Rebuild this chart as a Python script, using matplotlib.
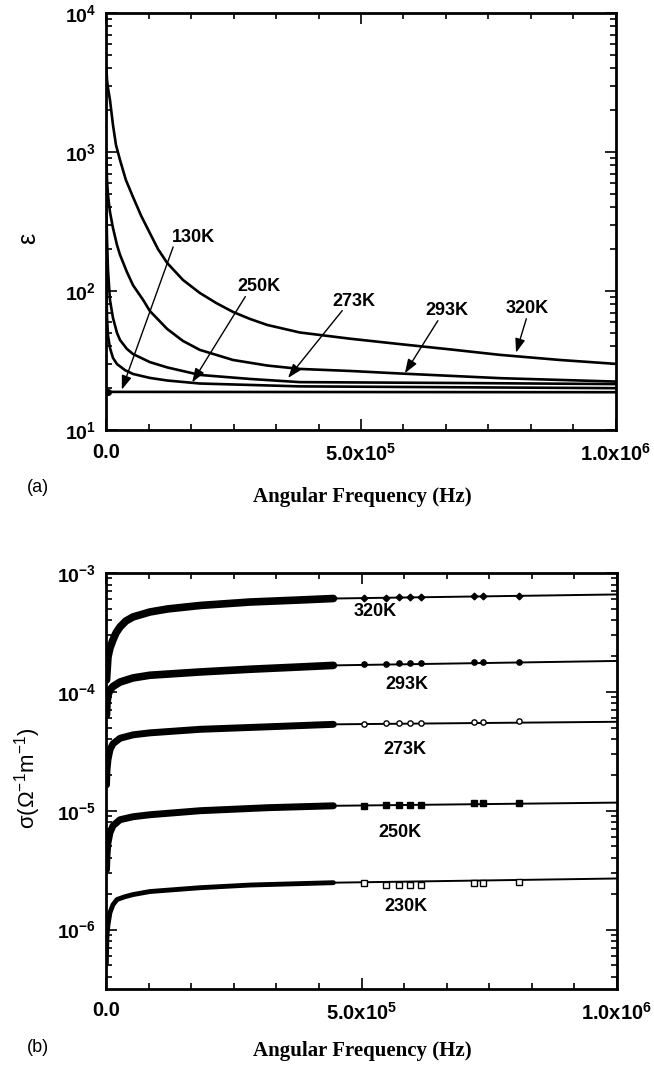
import matplotlib
matplotlib.use("Agg")
import matplotlib.pyplot as plt
import numpy as np
from matplotlib.ticker import MultipleLocator, LogLocator, NullFormatter

plt.rcParams['font.family'] = ['Liberation Sans', 'DejaVu Sans']
plt.rcParams['mathtext.fontset'] = 'custom'
plt.rcParams['mathtext.rm'] = 'Liberation Sans'
plt.rcParams['mathtext.bf'] = 'Liberation Sans:bold'
plt.rcParams['mathtext.it'] = 'Liberation Sans:italic'

# ---- panel (a): dielectric constant vs angular frequency ----
w_320 = [1e3, 2e3, 3.9e3, 7.8e3, 1.37e4, 1.96e4, 2.75e4, 3.9e4, 5.3e4, 6.9e4, 8.6e4, 1.02e5, 1.2e5,
         1.51e5, 1.84e5, 2.16e5, 2.49e5, 2.82e5, 3.16e5, 3.8e5, 4.78e5, 5.76e5, 6.75e5, 7.73e5, 8.9e5, 1e6]
e_320 = [3890, 3300, 2884, 2366, 1563, 1122, 875, 629, 474, 347, 261, 200, 159,
         120, 96.8, 82, 70.7, 63, 57, 50.3, 45.4, 41.5, 38.0, 34.7, 31.9, 29.9]

w_293 = [1e3, 2e3, 3.9e3, 7.8e3, 1.37e4, 2.16e4, 2.75e4, 4.1e4, 5.3e4, 7.3e4, 8.6e4, 1.2e5, 1.51e5,
         1.84e5, 2.49e5, 3.16e5, 3.8e5, 4.78e5, 5.76e5, 7.73e5, 1e6]
e_293 = [875, 629, 491, 370, 284, 214, 182, 137, 110, 86, 71.8, 53.3, 43.7,
         37.7, 31.9, 29.1, 27.5, 26.6, 25.5, 23.6, 22.3]

w_273 = [4e2, 1e3, 2e3, 3.9e3, 7.8e3, 1.37e4, 2.16e4, 2.75e4, 4.1e4, 5.3e4, 8.6e4, 1.2e5, 1.84e5,
         2.82e5, 3.8e5, 6.75e5, 1e6]
e_273 = [533, 352, 233, 142, 86, 64, 49.9, 44.4, 38.3, 35.2, 30.8, 28.2, 24.9,
         23.3, 22.1, 21.8, 21.4]

w_250 = [2e2, 1e3, 2e3, 3.9e3, 7.8e3, 1.37e4, 2.16e4, 3.7e4, 5.3e4, 8.6e4, 1.2e5, 1.84e5, 3.8e5, 1e6]
e_250 = [197, 102, 64, 48, 38.9, 33, 29.8, 27, 25.3, 23.7, 22.7, 21.6, 20.6, 20.0]

w_130 = [3e3, 1e6]
e_130 = [18.8, 18.7]

# label text, text position (w, eps), arrow tip (w, eps), arrow start on text
labels_a = [
    ('130K', (1.706e5, 244), (3.1e4, 19.5), (0.05, 0.0)),
    ('250K', (3.0e5, 107), (1.69e5, 22.0), (0.2, 0.0)),
    ('273K', (4.86e5, 84.7), (3.57e5, 23.7), (0.25, 0.0)),
    ('293K', (6.69e5, 71.8), (5.86e5, 25.6), (0.3, 0.0)),
    ('320K', (8.25e5, 74.3), (8.04e5, 36.0), (0.5, 0.0)),
]

# ---- panel (b): conductivity vs angular frequency ----
# dense part of each data set (w <= 4.45e5)
wb_320 = [1e3, 3.9e3, 7.8e3, 1.37e4, 1.96e4, 2.75e4, 3.9e4, 5.3e4, 8.6e4, 1.2e5, 1.84e5, 2.82e5, 3.8e5, 4.45e5]
sb_320 = [1.26e-4, 1.97e-4, 2.34e-4, 2.74e-4, 3.13e-4, 3.52e-4, 3.95e-4, 4.27e-4, 4.70e-4, 4.98e-4,
          5.33e-4, 5.70e-4, 5.93e-4, 6.1e-4]
wb_293 = [1e3, 2e3, 3.9e3, 7.8e3, 1.37e4, 2.75e4, 5.3e4, 8.6e4, 1.84e5, 2.82e5, 3.8e5, 4.45e5]
sb_293 = [6.4e-5, 8.1e-5, 9.4e-5, 1.04e-4, 1.11e-4, 1.21e-4, 1.31e-4, 1.38e-4, 1.47e-4, 1.55e-4, 1.62e-4, 1.67e-4]
wb_273 = [1e3, 2e3, 3.9e3, 7.8e3, 1.37e4, 2.75e4, 5.3e4, 8.6e4, 1.84e5, 3.16e5, 4.45e5]
sb_273 = [1.65e-5, 2.21e-5, 2.69e-5, 3.26e-5, 3.66e-5, 4.07e-5, 4.35e-5, 4.52e-5, 4.84e-5, 5.08e-5, 5.33e-5]
wb_250 = [1e3, 2e3, 3.9e3, 7.8e3, 1.37e4, 2.75e4, 5.3e4, 8.6e4, 1.84e5, 3.16e5, 4.45e5]
sb_250 = [3.19e-6, 4.27e-6, 5.38e-6, 6.53e-6, 7.48e-6, 8.4e-6, 8.9e-6, 9.25e-6, 1.0e-5, 1.06e-5, 1.1e-5]
wb_230 = [6e2, 1.2e3, 2e3, 3.9e3, 7.8e3, 1.37e4, 2.16e4, 3.7e4, 5.3e4, 8.6e4, 1.84e5, 2.82e5, 4.45e5]
sb_230 = [5.08e-7, 6.8e-7, 9.08e-7, 1.10e-6, 1.39e-6, 1.62e-6, 1.79e-6, 1.89e-6, 1.97e-6, 2.09e-6,
          2.25e-6, 2.37e-6, 2.48e-6]

# sparse high-frequency points
w_mk = [5.04e5, 5.47e5, 5.73e5, 5.95e5, 6.16e5, 7.2e5, 7.37e5, 8.08e5]
sm_320 = [6.2e-4, 6.2e-4, 6.3e-4, 6.3e-4, 6.3e-4, 6.4e-4, 6.4e-4, 6.4e-4]
sm_293 = [1.72e-4, 1.72e-4, 1.74e-4, 1.74e-4, 1.74e-4, 1.78e-4, 1.78e-4, 1.78e-4]
sm_273 = [5.38e-5, 5.46e-5, 5.52e-5, 5.52e-5, 5.52e-5, 5.6e-5, 5.6e-5, 5.67e-5]
sm_250 = [1.10e-5, 1.11e-5, 1.12e-5, 1.12e-5, 1.12e-5, 1.15e-5, 1.15e-5, 1.15e-5]
sm_230 = [2.47e-6, 2.36e-6, 2.39e-6, 2.39e-6, 2.39e-6, 2.47e-6, 2.47e-6, 2.49e-6]

# fitted line value at 1e6
s_end = {'320K': 6.6e-4, '293K': 1.82e-4, '273K': 5.6e-5, '250K': 1.17e-5, '230K': 2.69e-6}

labels_b = [('320K', 5.27e5, 4.70e-4), ('293K', 5.88e5, 1.15e-4), ('273K', 5.84e5, 3.26e-5),
            ('250K', 5.76e5, 6.53e-6), ('230K', 5.86e5, 1.56e-6)]

fig = plt.figure(figsize=(6.54, 10.72), dpi=100)
ax1 = fig.add_axes([106/654, 1-430/1072, 510/654, 417/1072])
ax2 = fig.add_axes([106/654, 1-989/1072, 511/654, 416/1072])


def style_axes(ax):
    ax.set_xlim(0, 1e6)
    ax.set_yscale('log')
    ax.set_xticks([0, 5e5, 1e6])
    ax.set_xticklabels(['0.0', r'5.0x$\mathbf{10^{5}}$', r'1.0x$\mathbf{10^{6}}$'],
                       fontsize=14.5, fontweight='bold')
    ax.xaxis.set_minor_locator(MultipleLocator(5e5/6))
    ax.yaxis.set_minor_locator(LogLocator(base=10, subs=np.arange(2, 10)))
    ax.yaxis.set_minor_formatter(NullFormatter())
    ax.tick_params(which='both', direction='in', top=True, right=True, width=1.2)
    ax.tick_params(which='major', length=8, pad=7)
    ax.tick_params(which='minor', length=4)
    ax.tick_params(axis='x', pad=9)
    for s in ax.spines.values():
        s.set_linewidth(2)


# panel (a)
for w, e in [(w_320, e_320), (w_293, e_293), (w_273, e_273), (w_250, e_250)]:
    ax1.plot(w, e, color='k', lw=1.9)
ax1.plot(w_130, e_130, color='k', lw=1.9)
ax1.plot(w_130[:1], e_130[:1], ls='none', marker='o', ms=4, color='k')
style_axes(ax1)
ax1.set_ylim(10, 1e4)
ax1.set_yticks([10, 100, 1000, 1e4])
ax1.set_yticklabels([r'$\mathbf{10^{1}}$', r'$\mathbf{10^{2}}$', r'$\mathbf{10^{3}}$', r'$\mathbf{10^{4}}$'],
                    fontsize=14)
ax1.yaxis.set_minor_formatter(NullFormatter())

for txt, tpos, tip, rp in labels_a:
    ax1.annotate(txt, xy=tip, xytext=tpos, ha='center', va='center',
                 fontsize=13, fontweight='bold',
                 arrowprops=dict(arrowstyle='-|>,head_length=0.7,head_width=0.25',
                                 color='k', lw=1.0, mutation_scale=12,
                                 shrinkA=1, shrinkB=0, relpos=rp, patchA=None))

ax1.set_xlabel('Angular Frequency (Hz)', family='Liberation Serif', fontweight='bold', fontsize=15)
ax1.xaxis.set_label_coords(0.502, -0.137)
ax1.xaxis.label.set_va('top')
fig.text(28/654, 1-238/1072, 'ε', rotation=90, fontsize=18, ha='center', va='center')
fig.text(27/654, 1-488/1072, '(a)', fontsize=13, ha='left', va='center')

# panel (b)
series_b = [
    ('320K', wb_320, sb_320, sm_320, 'D', 'k', 5.5),
    ('293K', wb_293, sb_293, sm_293, 'o', 'k', 5.5),
    ('273K', wb_273, sb_273, sm_273, 'o', 'white', 5.0),
    ('250K', wb_250, sb_250, sm_250, 's', 'k', 5.0),
    ('230K', wb_230, sb_230, sm_230, 's', 'white', 3.5),
]
for name, wb, sb, sm, mk, fc, lwb in series_b:
    ax2.plot(wb + [1e6], sb + [s_end[name]], color='k', lw=1.4)
    ax2.plot(wb, sb, color='k', lw=lwb, solid_capstyle='round', solid_joinstyle='round')
    ax2.plot(w_mk, sm, ls='none', marker=mk, ms=3.8 if mk != 'D' else 3.4,
             mfc=fc, mec='k', mew=1.0)

style_axes(ax2)
ax2.set_ylim(10**-6.5, 1e-3)
ax2.set_yticks([1e-6, 1e-5, 1e-4, 1e-3])
ax2.set_yticklabels([r'$\mathbf{10^{-6}}$', r'$\mathbf{10^{-5}}$', r'$\mathbf{10^{-4}}$', r'$\mathbf{10^{-3}}$'],
                    fontsize=14)
ax2.yaxis.set_minor_formatter(NullFormatter())
for txt, x, y in labels_b:
    ax2.text(x, y, txt, ha='center', va='center', fontsize=13, fontweight='bold')

ax2.set_xlabel('Angular Frequency (Hz)', family='Liberation Serif', fontweight='bold', fontsize=15)
ax2.xaxis.set_label_coords(0.502, -0.125)
ax2.xaxis.label.set_va('top')
fig.text(28/654, 1-778/1072, r'σ(Ω$^{\mathregular{-1}}$m$^{\mathregular{-1}}$)', rotation=90,
         fontsize=16, ha='center', va='center')
fig.text(27/654, 1-1048/1072, '(b)', fontsize=13, ha='left', va='center')

fig.savefig('out.png', dpi=100)
